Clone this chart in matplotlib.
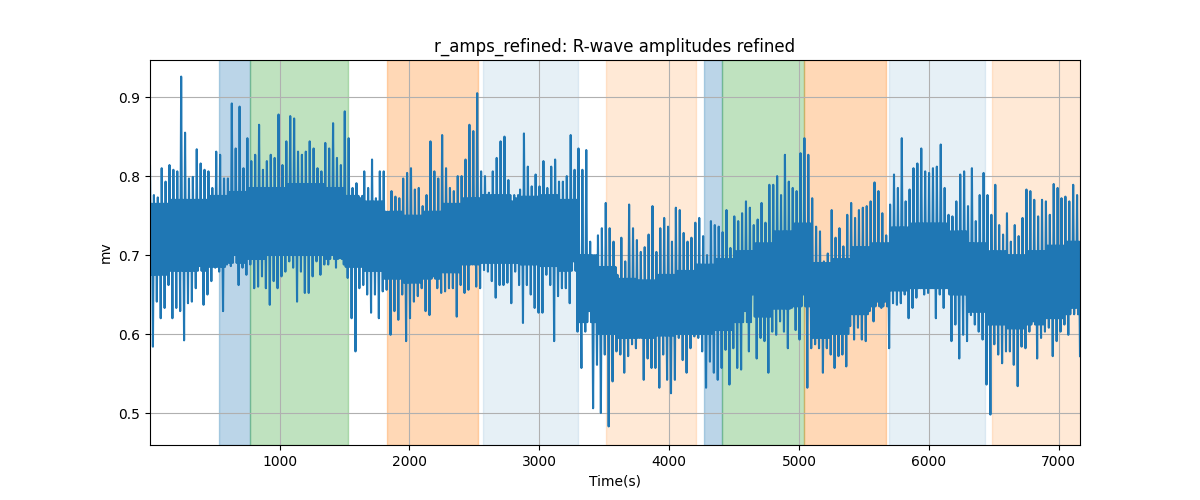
import numpy as np
import matplotlib
matplotlib.use("Agg")
import matplotlib.pyplot as plt

# Local maxima (peaks) and minima (troughs), one pair every 30 s
peaks = [
    0.813, 0.776, 0.773, 0.81, 0.793, 0.814, 0.808, 0.806, 0.926, 0.855, 0.797, 0.799, 0.834, 0.816, 0.808, 0.806, 0.785, 0.831, 0.827, 0.797,
    0.797, 0.892, 0.835, 0.888, 0.81, 0.848, 0.819, 0.827, 0.865, 0.808, 0.819, 0.827, 0.823, 0.878, 0.814, 0.844, 0.876, 0.873, 0.831, 0.827,
    0.831, 0.844, 0.835, 0.81, 0.806, 0.842, 0.835, 0.867, 0.823, 0.814, 0.882, 0.848, 0.785, 0.791, 0.772, 0.806, 0.785, 0.821, 0.772, 0.806,
    0.806, 0.755, 0.781, 0.774, 0.772, 0.797, 0.804, 0.81, 0.783, 0.785, 0.762, 0.776, 0.844, 0.806, 0.797, 0.852, 0.81, 0.785, 0.781, 0.80,
    0.80, 0.821, 0.865, 0.857, 0.905, 0.806, 0.80, 0.779, 0.806, 0.823, 0.844, 0.85, 0.795, 0.768, 0.772, 0.783, 0.854, 0.812, 0.787, 0.802,
    0.787, 0.819, 0.785, 0.812, 0.821, 0.793, 0.793, 0.80, 0.852, 0.808, 0.835, 0.808, 0.833, 0.717, 0.70, 0.725, 0.734, 0.766, 0.734, 0.717,
    0.675, 0.722, 0.692, 0.764, 0.734, 0.719, 0.704, 0.71, 0.726, 0.762, 0.704, 0.734, 0.747, 0.736, 0.717, 0.76, 0.757, 0.728, 0.717, 0.722,
    0.741, 0.747, 0.724, 0.70, 0.743, 0.738, 0.736, 0.729, 0.757, 0.709, 0.749, 0.743, 0.753, 0.768, 0.76, 0.738, 0.745, 0.766, 0.741, 0.789,
    0.789, 0.80, 0.776, 0.827, 0.793, 0.785, 0.781, 0.829, 0.848, 0.827, 0.772, 0.736, 0.73, 0.692, 0.702, 0.757, 0.722, 0.734, 0.711, 0.751,
    0.766, 0.747, 0.757, 0.76, 0.762, 0.768, 0.792, 0.781, 0.753, 0.725, 0.764, 0.802, 0.785, 0.848, 0.768, 0.783, 0.81, 0.816, 0.835, 0.806,
    0.804, 0.81, 0.812, 0.84, 0.785, 0.751, 0.749, 0.768, 0.802, 0.806, 0.762, 0.81, 0.743, 0.776, 0.804, 0.776, 0.751, 0.789, 0.738, 0.726,
    0.753, 0.717, 0.738, 0.724, 0.747, 0.783, 0.781, 0.77, 0.749, 0.77, 0.768, 0.751, 0.79, 0.785, 0.772, 0.774, 0.768, 0.789, 0.776,
]
troughs = [
    0.584, 0.641, 0.620, 0.633, 0.662, 0.620, 0.633, 0.629, 0.592, 0.639, 0.641, 0.658, 0.686, 0.637, 0.650, 0.667, 0.684, 0.679, 0.629, 0.688,
    0.686, 0.70, 0.662, 0.684, 0.675, 0.688, 0.658, 0.66, 0.673, 0.658, 0.637, 0.667, 0.658, 0.673, 0.679, 0.692, 0.684, 0.641, 0.679, 0.652,
    0.652, 0.673, 0.692, 0.675, 0.688, 0.688, 0.70, 0.684, 0.696, 0.688, 0.671, 0.62, 0.578, 0.658, 0.662, 0.65, 0.627, 0.65, 0.62, 0.654,
    0.656, 0.599, 0.629, 0.618, 0.65, 0.591, 0.62, 0.641, 0.648, 0.658, 0.629, 0.624, 0.673, 0.658, 0.652, 0.654, 0.658, 0.658, 0.622, 0.662,
    0.652, 0.656, 0.688, 0.66, 0.658, 0.681, 0.679, 0.667, 0.646, 0.662, 0.662, 0.665, 0.639, 0.679, 0.662, 0.614, 0.662, 0.65, 0.633, 0.627,
    0.627, 0.675, 0.662, 0.591, 0.648, 0.658, 0.658, 0.639, 0.692, 0.603, 0.557, 0.603, 0.629, 0.506, 0.561, 0.50, 0.574, 0.483, 0.54, 0.578,
    0.574, 0.551, 0.572, 0.587, 0.582, 0.595, 0.542, 0.569, 0.557, 0.557, 0.532, 0.574, 0.542, 0.525, 0.542, 0.595, 0.567, 0.551, 0.582, 0.597,
    0.595, 0.578, 0.532, 0.565, 0.551, 0.542, 0.557, 0.58, 0.536, 0.582, 0.557, 0.555, 0.629, 0.578, 0.65, 0.569, 0.595, 0.591, 0.551, 0.603,
    0.599, 0.616, 0.603, 0.582, 0.633, 0.605, 0.593, 0.65, 0.532, 0.582, 0.587, 0.582, 0.551, 0.582, 0.574, 0.557, 0.572, 0.574, 0.559, 0.61,
    0.593, 0.608, 0.593, 0.591, 0.629, 0.616, 0.641, 0.633, 0.641, 0.582, 0.639, 0.637, 0.639, 0.65, 0.62, 0.633, 0.646, 0.658, 0.65, 0.652,
    0.658, 0.62, 0.65, 0.633, 0.658, 0.591, 0.612, 0.569, 0.599, 0.591, 0.624, 0.612, 0.603, 0.593, 0.536, 0.498, 0.587, 0.574, 0.563, 0.578,
    0.578, 0.561, 0.534, 0.584, 0.582, 0.603, 0.616, 0.569, 0.595, 0.603, 0.608, 0.572, 0.591, 0.603, 0.612, 0.599, 0.633, 0.633, 0.572,
]
# Upper and lower edge of the dense core of the trace, one value per 5 pairs (150 s)
core_top = [0.765, 0.77, 0.77, 0.775, 0.78, 0.785, 0.785, 0.79, 0.79, 0.785, 0.775, 0.768,
            0.755, 0.75, 0.755, 0.765, 0.772, 0.776, 0.776, 0.774, 0.776, 0.77, 0.70, 0.685,
            0.67, 0.668, 0.675, 0.68, 0.688, 0.695, 0.705, 0.715, 0.73, 0.74, 0.69, 0.695,
            0.71, 0.715, 0.735, 0.74, 0.74, 0.73, 0.715, 0.705, 0.70, 0.705, 0.712, 0.717]
core_bottom = [0.675, 0.68, 0.68, 0.685, 0.69, 0.695, 0.70, 0.70, 0.70, 0.695, 0.685, 0.68,
               0.67, 0.665, 0.67, 0.678, 0.688, 0.69, 0.69, 0.688, 0.686, 0.68, 0.615, 0.60,
               0.595, 0.595, 0.598, 0.60, 0.60, 0.605, 0.615, 0.622, 0.632, 0.635, 0.595, 0.60,
               0.625, 0.635, 0.655, 0.658, 0.658, 0.65, 0.628, 0.612, 0.607, 0.612, 0.62, 0.625]
pairs_per_core_block = 5
pair_step = 30  # seconds between successive peak/trough pairs
t_start = 2

# Shaded segments
span_starts = [530, 769, 1824, 2563, 3517, 4271, 4410, 5042, 5697, 6483]
span_ends = [769, 1524, 2525, 3302, 4210, 4410, 5042, 5674, 6429, 7170]
span_colors = ["C0", "C2", "C1", "C0", "C1", "C0", "C2", "C1", "C0", "C1"]
span_alphas = [0.3, 0.3, 0.3, 0.11, 0.17, 0.3, 0.3, 0.3, 0.11, 0.17]

amps = []
for i, (p, tr) in enumerate(zip(peaks, troughs)):
    blk = i // pairs_per_core_block
    amps.extend([p, core_bottom[blk], core_top[blk], tr])
amps = np.array(amps)
times = t_start + np.arange(len(amps)) * (pair_step / 4.0)

fig, ax = plt.subplots(figsize=(12, 5), dpi=100)
for s, e, c, a in zip(span_starts, span_ends, span_colors, span_alphas):
    ax.axvspan(s, e, color=c, alpha=a)
ax.plot(times, amps, color="C0", linewidth=1.5)
ax.set_xlim(times[0], times[-1])
ax.set_ylim(0.4595, 0.947)
ax.grid(True)
ax.set_title("r_amps_refined: R-wave amplitudes refined")
ax.set_xlabel("Time(s)")
ax.set_ylabel("mv")
fig.savefig("out.png", dpi=100)
